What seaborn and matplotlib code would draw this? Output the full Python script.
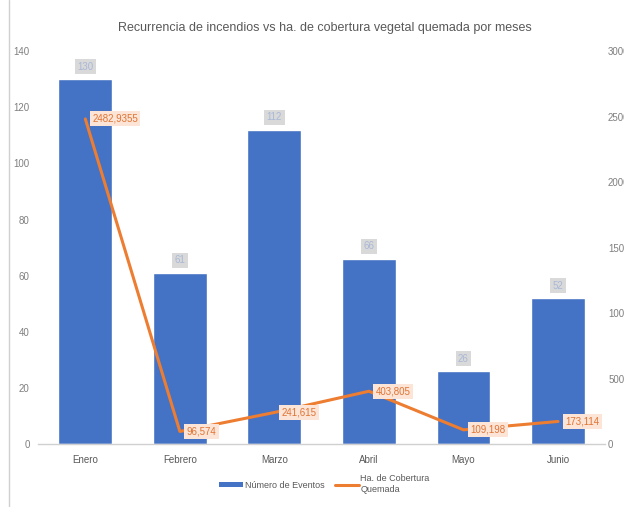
import matplotlib
matplotlib.use("Agg")
import matplotlib.pyplot as plt
import seaborn as sns
import pandas as pd
from matplotlib.lines import Line2D
from matplotlib.patches import Patch

# --- datos ---
MESES = ["Enero", "Febrero", "Marzo", "Abril", "Mayo", "Junio"]
EVENTOS = [130, 61, 112, 66, 26, 52]
HECTAREAS = [2482.9355, 96.574, 241.615, 403.805, 109.198, 173.114]
HA_ETIQUETAS = ["2482,9355", "96,574", "241,615", "403,805", "109,198", "173,114"]

AZUL = "#4472C4"
NARANJA = "#ED7D31"
GRIS_TXT = "#7f7f7f"

sns.set_theme(style="white")
plt.rcParams["font.family"] = ["Liberation Sans", "DejaVu Sans"]

df = pd.DataFrame({"Mes": MESES, "Eventos": EVENTOS, "Ha": HECTAREAS})

fig = plt.figure(figsize=(6.24, 5.07), dpi=100)
ax = fig.add_axes([0.061, 0.124, 0.909, 0.775])

sns.barplot(data=df, x="Mes", y="Eventos", order=MESES, color=AZUL,
            saturation=1, width=0.57, ax=ax, zorder=2)

ax2 = ax.twinx()
sns.pointplot(data=df, x="Mes", y="Ha", order=MESES, color=NARANJA,
              markers="o", markersize=0, linewidth=2.2, errorbar=None,
              ax=ax2, zorder=5)

ax.set_ylim(0, 140)
ax.set_yticks(range(0, 141, 20))
ax2.set_ylim(0, 3000)
ax2.set_yticks(range(0, 3001, 500))
ax.set_xlim(-0.5, len(MESES) - 0.5)

for a in (ax, ax2):
    for s in a.spines.values():
        s.set_visible(False)
    a.set_xlabel("")
    a.set_ylabel("")
    a.grid(False)
ax.spines["bottom"].set_visible(True)
ax.spines["bottom"].set_color("#d0d0d0")
ax.spines["bottom"].set_linewidth(1)

ax.tick_params(axis="x", labelsize=7, colors="#595959", length=0, pad=8)
ax.tick_params(axis="y", labelsize=7, colors=GRIS_TXT, length=0, pad=6)
ax2.tick_params(axis="y", labelsize=7, colors=GRIS_TXT, length=0, pad=2)

# etiquetas de barras
for i, v in enumerate(EVENTOS):
    ax.annotate(str(v), xy=(i, v), xytext=(0, 9), textcoords="offset points",
                ha="center", va="center", fontsize=7, color="#a9b8d6",
                bbox=dict(boxstyle="square,pad=0.25", fc="#d9d9d9", ec="none"),
                zorder=6)

# etiquetas de la línea
for i, (v, t) in enumerate(zip(HECTAREAS, HA_ETIQUETAS)):
    ax2.annotate(t, xy=(i, v), xytext=(5, 0), textcoords="offset points",
                 ha="left", va="center", fontsize=7, color="#e07434",
                 bbox=dict(boxstyle="square,pad=0.25", fc="#fce4d6", ec="none"),
                 zorder=7)

fig.text(0.52, 0.945, "Recurrencia de incendios vs ha. de cobertura vegetal quemada por meses",
         ha="center", va="center", fontsize=9, color="#595959")

handles = [Patch(facecolor=AZUL, edgecolor="none"),
           Line2D([0], [0], color=NARANJA, lw=2.2)]
fig.legend(handles, ["Número de Eventos", "Ha. de Cobertura\nQuemada"],
           loc="center", bbox_to_anchor=(0.52, 0.045), ncol=2, frameon=False,
           fontsize=6.5, labelcolor="#595959", handlelength=2.6,
           handleheight=0.6, columnspacing=1.2, handletextpad=0.2)

# borde izquierdo del área del gráfico
fig.add_artist(Line2D([0.015, 0.015], [0, 1], transform=fig.transFigure,
                      color="#d0d0d0", lw=1))

fig.savefig("out.png", dpi=100)
